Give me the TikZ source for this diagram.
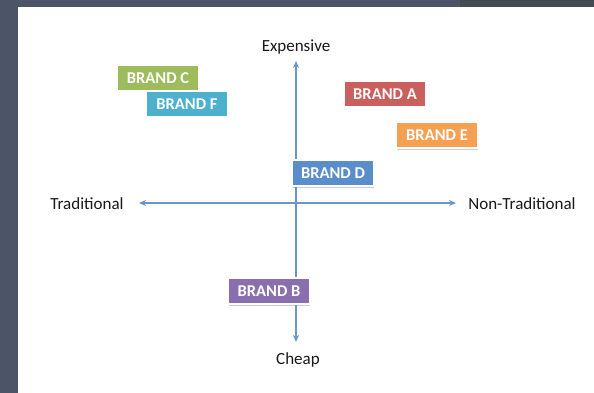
\documentclass[tikz,border=0pt]{standalone}
\usepackage{fontspec}
\setmainfont{Carlito}
\usepackage{xcolor}
\usepackage{tikz}
\usetikzlibrary{arrows.meta}
\usetikzlibrary{shadows}
\definecolor{ardoise}{HTML}{4B5567}
\definecolor{ardoisefonce}{HTML}{454A53}
\definecolor{axebleu}{HTML}{6A95C9}
\definecolor{vertC}{HTML}{9EBB5E}
\definecolor{cyanF}{HTML}{4DB1CD}
\definecolor{rougeA}{HTML}{C9605D}
\definecolor{orangeE}{HTML}{F5A052}
\definecolor{bleuD}{HTML}{5A8ECB}
\definecolor{violetB}{HTML}{8A6FAE}
\tikzstyle{etiquette}=[font=\fontsize{17}{20}\selectfont,text=black!90,inner sep=2pt]
\tikzstyle{marque}=[rectangle,draw=white,line width=1.5pt,text=white,
        font=\fontsize{16.5}{19}\selectfont\bfseries,minimum width=81pt,minimum height=26pt,
        inner sep=2pt,drop shadow={shadow xshift=0.8pt,shadow yshift=-1.5pt,opacity=0.4}]
\tikzstyle{axe}=[{Stealth[length=7pt,width=6pt]}-{Stealth[length=7pt,width=6pt]},draw=axebleu,line width=1.6pt]

\begin{document}
\begin{tikzpicture}[x=1pt,y=-1pt]
% fond
\fill[ardoise] (0,0) rectangle (594,393);
\fill[ardoisefonce] (460,0) rectangle (594,7);
\fill[white] (18,7) rectangle (594,393);
\useasboundingbox (0,0) rectangle (594,393);
% axes
\node[etiquette] (exp) at (296,47) {Expensive};
\node[etiquette] (cheap) at (298,360) {Cheap};
\node[etiquette] (trad) at (87,204) {Traditional};
\node[etiquette] (nontrad) at (522,204) {Non-Traditional};
\coordinate (haut) at (296,61);
\coordinate (bas) at (296,342);
\coordinate (gauche) at (139,203);
\coordinate (droite) at (456,203);
\draw[axe] (gauche) -- (droite);
\draw[axe] (haut) -- (bas);
% marques
\node[marque,fill=vertC] (c) at (158,78) {BRAND C};
\node[marque,fill=cyanF] (f) at (187,104) {BRAND F};
\node[marque,fill=rougeA] (a) at (385,94) {BRAND A};
\node[marque,fill=orangeE] (e) at (437,135) {BRAND E};
\node[marque,fill=bleuD] (d) at (333,173) {BRAND D};
\node[marque,fill=violetB] (b) at (269,291) {BRAND B};
\end{tikzpicture}
\end{document}
